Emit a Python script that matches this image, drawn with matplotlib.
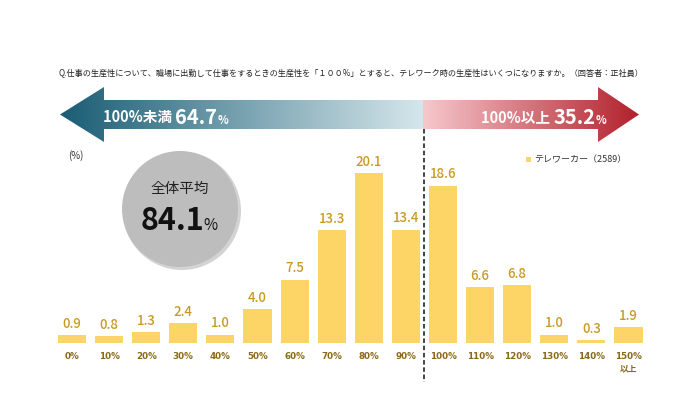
import numpy as np
import matplotlib
matplotlib.use("Agg")
import matplotlib.pyplot as plt
from matplotlib.patches import Polygon, Circle, Rectangle
from matplotlib.colors import to_rgb

plt.rcParams['font.family'] = ['Noto Sans CJK JP', 'DejaVu Sans']

# ---- data ----
categories = ["0%", "10%", "20%", "30%", "40%", "50%", "60%", "70%", "80%", "90%",
              "100%", "110%", "120%", "130%", "140%", "150%\n以上"]
values = [0.9, 0.8, 1.3, 2.4, 1.0, 4.0, 7.5, 13.3, 20.1, 13.4,
          18.6, 6.6, 6.8, 1.0, 0.3, 1.9]
below_share = 64.7
above_share = 35.2
overall_avg = 84.1
n_resp = 2589
title = "Q.仕事の生産性について、職場に出勤して仕事をするときの生産性を「１００%」とすると、テレワーク時の生産性はいくつになりますか。（回答者：正社員）"
series_name = "テレワーカー"

BAR = '#fdd466'
LBL = '#c99a22'
TICK = '#8a6a18'

W, H = 700, 400
fig = plt.figure(figsize=(7, 4), dpi=100)

# overlay axes in pixel coordinates
ov = fig.add_axes([0, 0, 1, 1])
ov.set_xlim(0, W)
ov.set_ylim(H, 0)
ov.axis('off')

# title
ov.text(351, 73, title, fontsize=5.85, color='#222222', ha='center', va='center')

# gradient double arrow
split = 423
x0, x1 = 60, 639
cols = np.arange(x0, x1)
left_dark, left_light = np.array(to_rgb('#1a5d74')), np.array(to_rgb('#d6e7ec'))
right_light, right_dark = np.array(to_rgb('#f6c8cc')), np.array(to_rgb('#b1202b'))
img = np.zeros((1, len(cols), 3))
for i, c in enumerate(cols):
    if c < split:
        t = (c - x0) / (split - x0)
        img[0, i] = left_dark * (1 - t) + left_light * t
    else:
        t = (c - split) / (x1 - split)
        img[0, i] = right_light * (1 - t) + right_dark * t
cy = 114.5
arrow_pts = [(x0, cy), (104, 87), (104, 100), (598, 100), (598, 87), (x1, cy),
             (598, 142), (598, 129), (104, 129), (104, 142)]
poly = Polygon(arrow_pts, closed=True, facecolor='none', edgecolor='none')
ov.add_patch(poly)
im = ov.imshow(img, extent=(x0, x1, 143, 86), aspect='auto', interpolation='bilinear', zorder=1)
im.set_clip_path(poly)
ov.set_xlim(0, W)
ov.set_ylim(H, 0)

# arrow texts
t1 = ov.text(103, 117, "100%未満 ", fontsize=10.5, fontweight='bold', color='white', va='center', ha='left', zorder=3)
a1 = ov.annotate(f"{below_share}", xycoords=t1, xy=(1, 0.5), va='center', ha='left',
                 fontsize=14.5, fontweight='bold', color='white', zorder=3)
ov.annotate("%", xycoords=a1, xy=(1, 0.32), va='center', ha='left',
            fontsize=8, fontweight='bold', color='white', zorder=3)
t2 = ov.text(481, 117, "100%以上 ", fontsize=10.5, fontweight='bold', color='white', va='center', ha='left', zorder=3)
a2 = ov.annotate(f"{above_share}", xycoords=t2, xy=(1, 0.5), va='center', ha='left',
                 fontsize=14.5, fontweight='bold', color='white', zorder=3)
ov.annotate("%", xycoords=a2, xy=(1, 0.32), va='center', ha='left',
            fontsize=8, fontweight='bold', color='white', zorder=3)

# dashed divider
ov.plot([split + 1, split + 1], [129, 382], color='#333333', lw=1.3, ls=(0, (2.5, 1.5)), zorder=2)

# (%)
ov.text(68, 156, "(%)", fontsize=7, color='#333333', va='center', ha='left')

# average circle
ov.add_patch(Circle((182, 211), 59, facecolor='#a8a8a8', edgecolor='none', alpha=0.5, zorder=1))
ov.add_patch(Circle((180, 209), 58, facecolor='#bdbdbd', edgecolor='none', zorder=2))
ov.text(180, 189, "全体平均", fontsize=10.5, color='#222222', ha='center', va='center', zorder=3)
tavg = ov.text(172, 221, f"{overall_avg}", fontsize=22, fontweight='bold', color='#111111',
               ha='center', va='center', zorder=3)
ov.annotate("%", xycoords=tavg, xy=(1, 0.35), va='center', ha='left',
            fontsize=11, color='#111111', zorder=3)

# legend
ov.add_patch(Rectangle((526, 157), 5, 5, facecolor=BAR, edgecolor='none'))
ov.text(534, 160, f"{series_name}（{n_resp}）", fontsize=6.5, color='#333333', va='center', ha='left')

# ---- bar axes ----
spacing = 37.1
c0 = 72
left_px = c0 - spacing / 2
width_px = spacing * len(values)
base_px = 343
ppu = 8.46
ymax = 24
ax = fig.add_axes([left_px / W, (H - base_px) / H, width_px / W, ymax * ppu / H])
ax.patch.set_visible(False)
xs = np.arange(len(values))
ax.bar(xs, values, width=0.76, color=BAR, zorder=2)
for x, v in zip(xs, values):
    ax.annotate(f"{v:.1f}", (x, v), xytext=(0, 3), textcoords='offset points',
                ha='center', va='bottom', fontsize=9.5, color=LBL, fontweight='medium')
ax.set_xlim(-0.5, len(values) - 0.5)
ax.set_ylim(0, ymax)
ax.set_xticks(xs)
ax.set_xticklabels(categories, fontsize=6.3, color=TICK, fontweight='bold', linespacing=1.5,
                   family=['DejaVu Sans', 'Noto Sans CJK JP'])
ax.tick_params(axis='x', length=0, pad=6.5)
ax.set_yticks([])
for s in ax.spines.values():
    s.set_visible(False)

fig.savefig("out.png", dpi=100)
